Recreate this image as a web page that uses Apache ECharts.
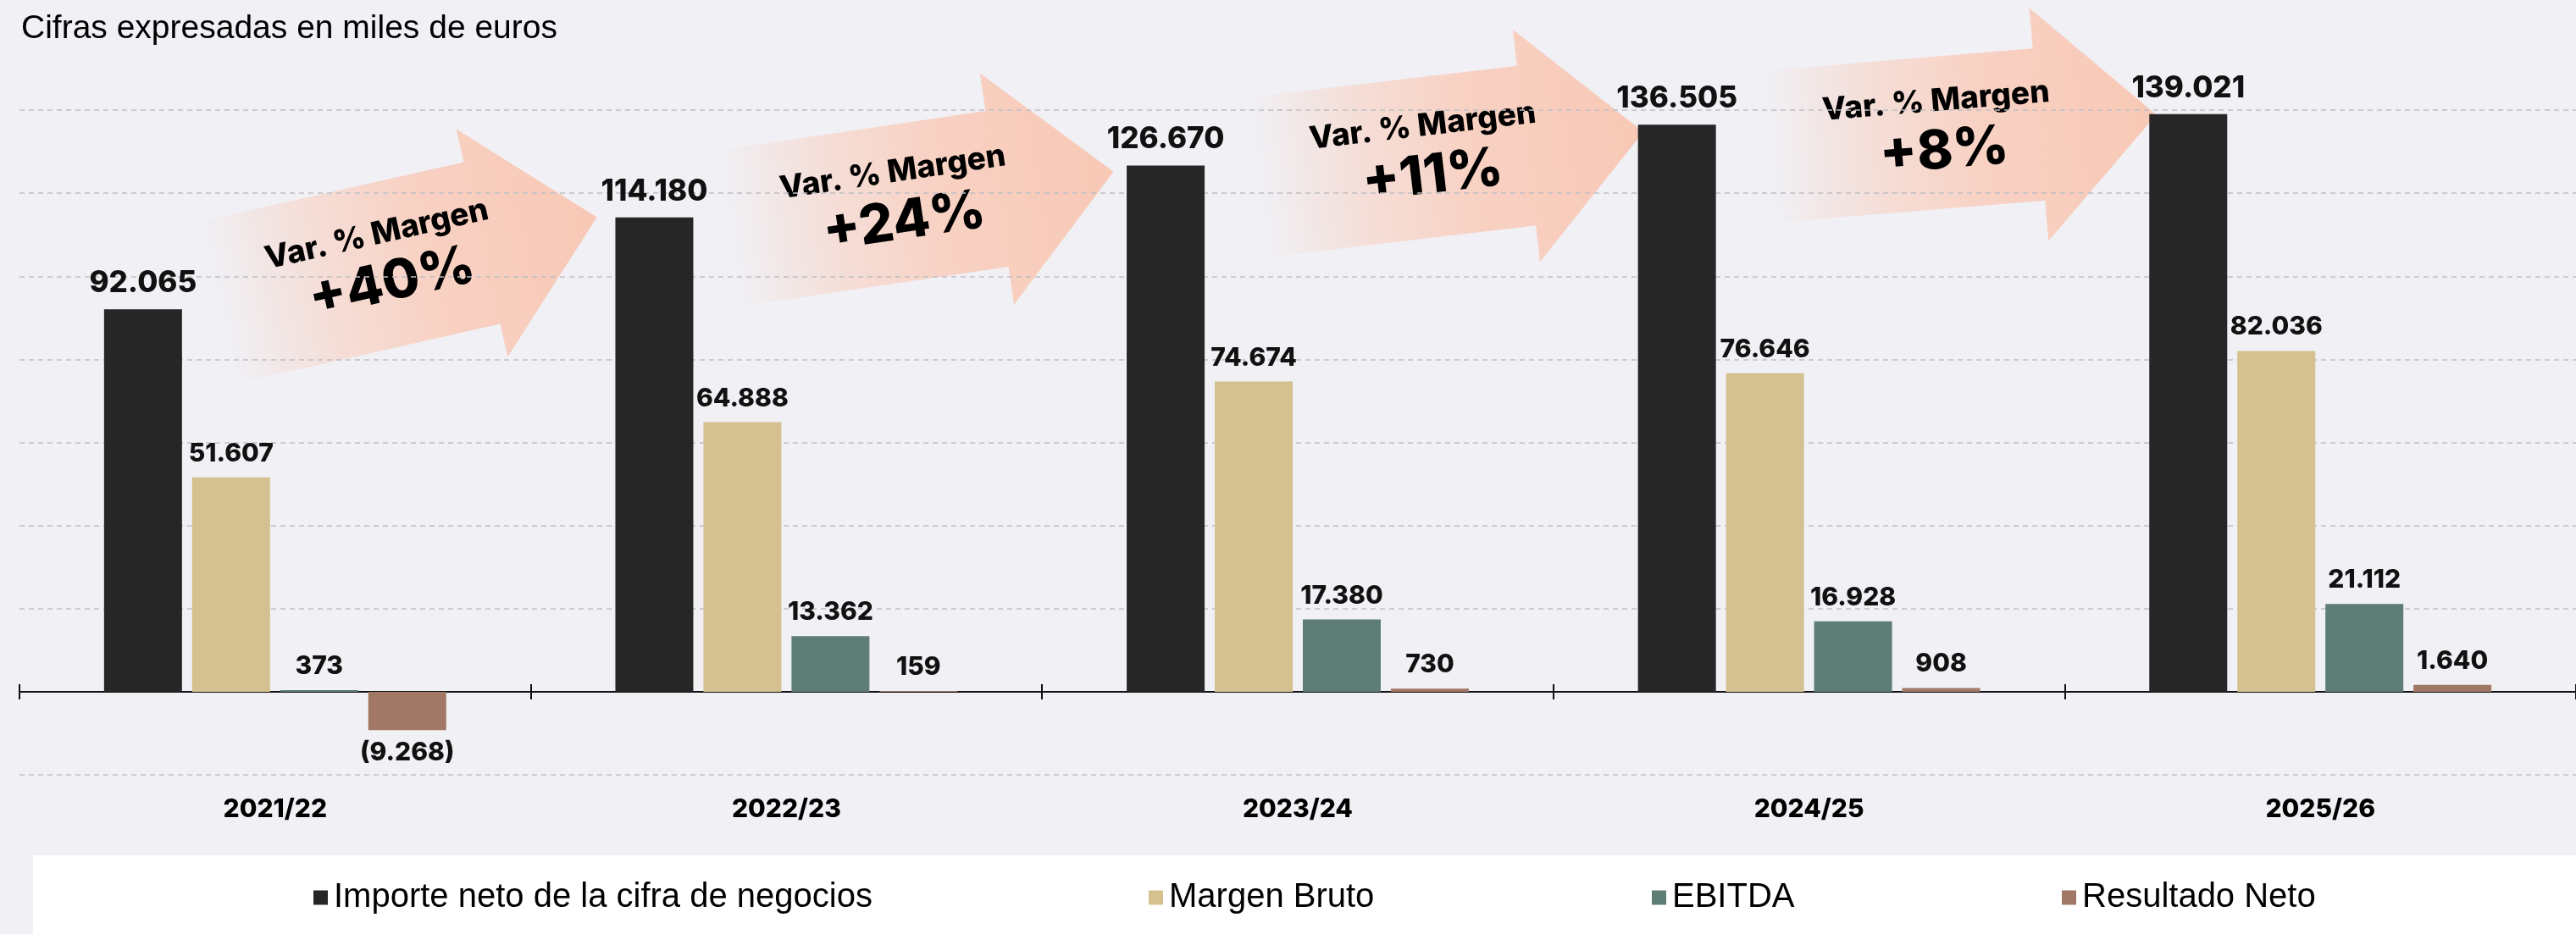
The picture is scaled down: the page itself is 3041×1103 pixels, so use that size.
<!DOCTYPE html>
<html>
<head>
<meta charset="utf-8">
<script src="https://cdn.jsdelivr.net/npm/echarts@6/dist/echarts.min.js"></script>
<style>
  html, body { margin: 0; padding: 0; background: #f0f0f5; }
  #chart { width: 3041px; height: 1103px; }
</style>
</head>
<body>
<div id="chart"></div>
<script>
var categories = ['2021/22', '2022/23', '2023/24', '2024/25', '2025/26'];
var importeNeto = [92065, 114180, 126670, 136505, 139021];
var margenBruto = [51607, 64888, 74674, 76646, 82036];
var ebitda = [373, 13362, 17380, 16928, 21112];
var resultadoNeto = [-9268, 159, 730, 908, 1640];
var varMargen = ['+40%', '+24%', '+11%', '+8%'];
var seriesNames = ['Importe neto de la cifra de negocios', 'Margen Bruto', 'EBITDA', 'Resultado Neto'];

// arrow placement (pixels): centre of the head base, tilt, half heights
var arrowLayout = [
    {x: 569, y: 287, angle: 12.7, body: 98, head: 138},
    {x: 1177, y: 223, angle: 8.4, body: 93, head: 138},
    {x: 1802, y: 172, angle: 6.7, body: 95, head: 138},
    {x: 2407, y: 147, angle: 4.7, body: 90, head: 138}
];

var colors = ['#262626', '#d4c18f', '#5d7d75', '#a17765'];
var font = 'Inter';

function fmt(v) {
    var s = Math.abs(v).toString().replace(/\B(?=(\d{3})+(?!\d))/g, '.');
    return v < 0 ? '(' + s + ')' : s;
}

function barSeries(idx, values, size) {
    return {
        name: seriesNames[idx],
        type: 'bar',
        barWidth: 92,
        barGap: '13%',
        itemStyle: {color: colors[idx]},
        label: {
            show: true,
            position: 'top',
            distance: 13,
            color: '#111',
            fontFamily: font,
            fontWeight: 800,
            fontSize: size,
            formatter: function (p) { return fmt(p.value); }
        },
        data: values.map(function (v) {
            return v < 0 ? {value: v, label: {position: 'bottom', distance: 12}} : v;
        })
    };
}

function arrows() {
    var list = [];
    for (var i = 0; i < arrowLayout.length; i++) {
        var a = arrowLayout[i];
        var L = 322, hl = 139;
        list.push({
            type: 'group',
            x: a.x,
            y: a.y,
            rotation: a.angle * Math.PI / 180,
            z: 1,
            children: [{
                type: 'polygon',
                shape: {points: [[-L, -a.body], [0, -a.body], [0, -a.head], [hl, 0], [0, a.head], [0, a.body], [-L, a.body]]},
                style: {
                    fill: {
                        type: 'linear', x: 0, y: 0, x2: 1, y2: 0,
                        colorStops: [
                            {offset: 0, color: 'rgba(249,205,188,0)'},
                            {offset: 0.3, color: 'rgba(249,208,192,0.6)'},
                            {offset: 0.55, color: 'rgba(249,206,190,0.9)'},
                            {offset: 1, color: 'rgba(248,200,181,1)'}
                        ]
                    }
                }
            }, {
                type: 'text',
                x: -119, y: -37,
                style: {text: 'Var. % Margen', fill: '#000', font: '800 37px ' + font, align: 'center', verticalAlign: 'middle'}
            }, {
                type: 'text',
                x: -114, y: 23,
                style: {text: varMargen[i], fill: '#000', font: '800 64px ' + font, align: 'center', verticalAlign: 'middle'}
            }]
        });
    }
    return list;
}

var legendLeft = [370, 1356, 1950, 2434];
var legends = seriesNames.map(function (n, i) {
    return {
        data: [n],
        left: legendLeft[i],
        top: 1040,
        padding: 0,
        itemWidth: 17,
        itemHeight: 17,
        itemGap: 0,
        icon: 'rect',
        selectedMode: false,
        textStyle: {fontFamily: 'Liberation Sans', fontSize: 40, color: '#000', padding: [0, 0, 0, 2]}
    };
});

var tickStyle = {color: '#111', width: 2};

var chart = echarts.init(document.getElementById('chart'));
chart.setOption({
    backgroundColor: '#f0f0f5',
    animation: false,
    title: {
        text: 'Cifras expresadas en miles de euros',
        left: 20, top: 10,
        textStyle: {fontFamily: 'Liberation Sans', fontWeight: 'normal', fontSize: 39, color: '#000'}
    },
    legend: legends,
    grid: {left: 23, right: -27, top: 130, bottom: 188, containLabel: false},
    xAxis: [{
        type: 'category',
        data: categories,
        axisLine: {onZero: true, lineStyle: tickStyle},
        axisTick: {show: true, length: 9, lineStyle: tickStyle},
        axisLabel: {margin: 26, color: '#000', fontFamily: font, fontWeight: 800, fontSize: 30}
    }, {
        type: 'category',
        data: categories,
        position: 'bottom',
        axisLine: {onZero: true, onZeroAxisIndex: 1, lineStyle: tickStyle},
        axisTick: {show: true, inside: true, length: 9, lineStyle: tickStyle},
        axisLabel: {show: false}
    }],
    yAxis: [{
        type: 'value',
        min: -20000,
        max: 140000,
        interval: 20000,
        axisLabel: {show: false},
        axisLine: {show: false},
        axisTick: {show: false},
        splitLine: {lineStyle: {color: '#bfbfc4', width: 1.5, type: [6, 5]}}
    }, {
        type: 'value',
        min: -20000,
        max: 140000,
        interval: 20000,
        show: false,
        splitLine: {show: false}
    }],
    graphic: [{
        type: 'rect',
        z: 0,
        shape: {x: 39, y: 1010, width: 3002, height: 93},
        style: {fill: '#ffffff'}
    }].concat(arrows()),
    series: [
        barSeries(0, importeNeto, 35),
        barSeries(1, margenBruto, 30),
        barSeries(2, ebitda, 30),
        barSeries(3, resultadoNeto, 30)
    ]
});
</script>
</body>
</html>
